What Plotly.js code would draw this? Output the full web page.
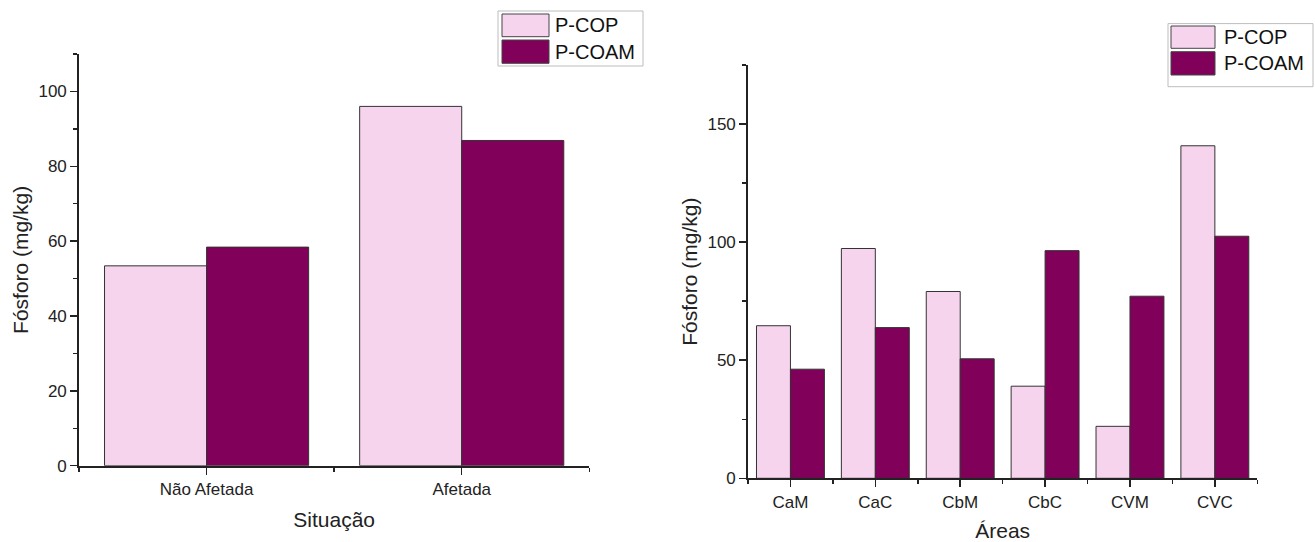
<!DOCTYPE html>
<html>
<head>
<meta charset="utf-8">
<script src="https://cdn.plot.ly/plotly-3.0.1.min.js"></script>
<style>
  html, body { margin: 0; padding: 0; background: #fff; }
  #chart { width: 1315px; height: 542px; }
</style>
</head>
<body>
<div id="chart"></div>
<script>
// ---- Data ----
const seriesNames = ["P-COP", "P-COAM"];

const situacaoCategories = ["Não Afetada", "Afetada"];
const situacaoPCOP = [53.4, 96.0];
const situacaoPCOAM = [58.4, 86.9];

const areasCategories = ["CaM", "CaC", "CbM", "CbC", "CVM", "CVC"];
const areasPCOP = [64.6, 97.3, 79.1, 39.0, 22.0, 140.8];
const areasPCOAM = [46.2, 63.8, 50.6, 96.4, 77.1, 102.5];

const leftYTicks = [0, 20, 40, 60, 80, 100];
const rightYTicks = [0, 50, 100, 150];

// ---- Styles ----
const W = 1315, H = 542;
const colors = ["rgb(247,212,238)", "rgb(128,0,90)"];
const FONT = "Liberation Sans, Arial, Helvetica, sans-serif";
const TXT = "#222";

function idx(arr) { return arr.map((_, i) => i); }

function barTrace(cats, vals, k, xa, ya) {
  return {
    type: "bar",
    name: seriesNames[k],
    x: idx(cats),
    y: vals,
    xaxis: xa,
    yaxis: ya,
    showlegend: false,
    marker: { color: colors[k], line: { color: "#333", width: 1 } },
    hoverinfo: "y+name"
  };
}

const data = [
  barTrace(situacaoCategories, situacaoPCOP, 0, "x", "y"),
  barTrace(situacaoCategories, situacaoPCOAM, 1, "x", "y"),
  barTrace(areasCategories, areasPCOP, 0, "x2", "y2"),
  barTrace(areasCategories, areasPCOAM, 1, "x2", "y2")
];

function xAxis(cats, domain, anchor, title) {
  return {
    domain: domain,
    anchor: anchor,
    range: [-0.5, cats.length - 0.5],
    tickmode: "array",
    tickvals: idx(cats),
    ticktext: cats,
    ticks: "outside",
    ticklen: 7,
    tickwidth: 1.5,
    tickcolor: TXT,
    minor: { tickmode: "linear", tick0: 0.5, dtick: 1, ticks: "outside", ticklen: 4, tickwidth: 1.5, tickcolor: TXT },
    showline: true,
    linecolor: TXT,
    linewidth: 1.8,
    showgrid: false,
    zeroline: false,
    tickfont: { family: FONT, size: 17, color: TXT },
    title: { text: title, font: { family: FONT, size: 21, color: TXT }, standoff: 14 },
    fixedrange: true
  };
}

function yAxis(ticks, maxV, minorStep, domain, anchor) {
  return {
    domain: domain,
    anchor: anchor,
    range: [0, maxV],
    tickmode: "array",
    tickvals: ticks,
    ticktext: ticks.map(String),
    ticks: "outside",
    ticklen: 7,
    tickwidth: 1.5,
    tickcolor: TXT,
    minor: { tickmode: "linear", tick0: 0, dtick: minorStep, ticks: "outside", ticklen: 4, tickwidth: 1.5, tickcolor: TXT },
    showline: true,
    linecolor: TXT,
    linewidth: 1.8,
    showgrid: false,
    zeroline: false,
    tickfont: { family: FONT, size: 17, color: TXT },
    title: { text: "Fósforo (mg/kg)", font: { family: FONT, size: 21, color: TXT }, standoff: 4 },
    fixedrange: true
  };
}

// ---- Custom legends (large swatches like the reference) ----
function px(x) { return x / W; }
function py(y) { return 1 - y / H; }

function legendShapes(box, sw, textX, fontSize) {
  const shapes = [{
    type: "rect", xref: "paper", yref: "paper",
    x0: px(box[0]), x1: px(box[1]), y0: py(box[2]), y1: py(box[3]),
    line: { color: "#bdbdbd", width: 1 }, fillcolor: "rgba(255,255,255,0)"
  }];
  const anns = [];
  seriesNames.forEach((name, k) => {
    const s = sw[k];
    shapes.push({
      type: "rect", xref: "paper", yref: "paper",
      x0: px(s[0]), x1: px(s[1]), y0: py(s[2]), y1: py(s[3]),
      line: { color: "#444", width: 1 }, fillcolor: colors[k]
    });
    anns.push({
      xref: "paper", yref: "paper",
      x: px(textX), y: py((s[2] + s[3]) / 2),
      xanchor: "left", yanchor: "middle",
      text: name, showarrow: false,
      font: { family: FONT, size: fontSize, color: "#111" }
    });
  });
  return { shapes, anns };
}

const legL = legendShapes([498, 643, 11, 66], [[502, 549, 14, 36.7], [502, 549, 40, 63.3]], 553, 20);
const legR = legendShapes([1168, 1313, 23.6, 86.7], [[1171, 1215, 26, 48.3], [1171, 1215, 51.7, 75]], 1222, 20);

const layout = {
  width: W,
  height: H,
  margin: { l: 0, r: 0, t: 0, b: 0 },
  paper_bgcolor: "#fff",
  plot_bgcolor: "rgba(0,0,0,0)",
  barmode: "group",
  bargap: 0.2,
  bargroupgap: 0,
  showlegend: false,
  font: { family: FONT, color: TXT },
  xaxis: xAxis(situacaoCategories, [79 / W, 589.3 / W], "y", "Situação"),
  yaxis: yAxis(leftYTicks, 110, 10, [(H - 465.7) / H, (H - 54) / H], "x"),
  xaxis2: xAxis(areasCategories, [748 / W, 1257.3 / W], "y2", "Áreas"),
  yaxis2: yAxis(rightYTicks, 175, 25, [(H - 478.3) / H, (H - 65) / H], "x2"),
  shapes: legL.shapes.concat(legR.shapes),
  annotations: legL.anns.concat(legR.anns)
};

Plotly.newPlot("chart", data, layout, { displayModeBar: false, staticPlot: true });
</script>
</body>
</html>
